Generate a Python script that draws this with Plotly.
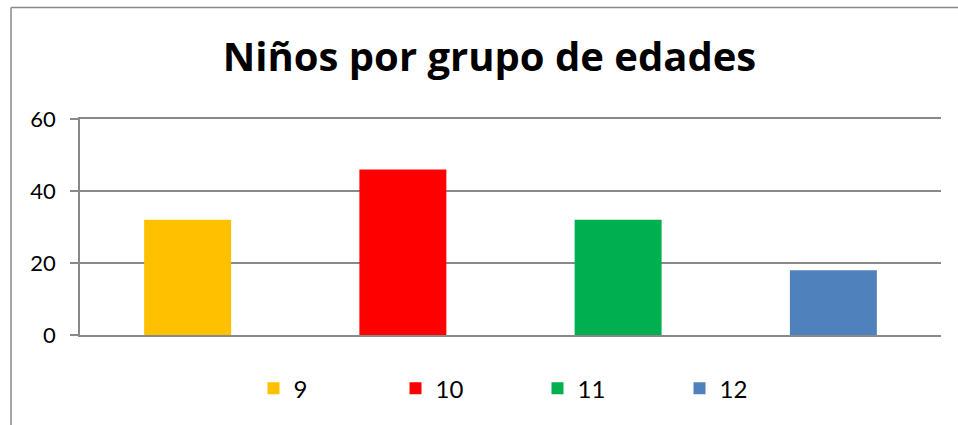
import plotly.graph_objects as go

categories = ["9", "10", "11", "12"]
values = [32, 46, 32, 18]
colors = ["#FFC000", "#FF0000", "#00B050", "#4F81BD"]
title_text = "Niños por grupo de edades"
y_ticks = [0, 20, 40, 60]

W, H = 958, 425
L, R, T, B = 80, 17, 118.5, 89.5
pw, ph = W - L - R, H - T - B

fig = go.Figure()
for cat, val, col in zip(categories, values, colors):
    fig.add_trace(go.Bar(x=[cat], y=[val], name=cat, marker=dict(color=col, line=dict(width=0))))

def px_x(x):
    return (x - L) / pw

def px_y(y):
    return (H - B - y) / ph

grid = "#898989"
fig.update_layout(
    width=W, height=H,
    margin=dict(l=L, r=R, t=T, b=B, pad=0),
    paper_bgcolor="white", plot_bgcolor="white",
    barmode="overlay", bargap=0.596,
    font=dict(family="Open Sans", color="black"),
    title=dict(text="<b>" + title_text + "</b>", x=489.5 / W, xanchor="center",
               y=1 - 57 / H, yanchor="middle", font=dict(size=40, family="Open Sans", color="black")),
    xaxis=dict(categoryorder="array", categoryarray=categories, showticklabels=False,
               showgrid=False, showline=True, mirror=True, linecolor=grid, linewidth=1.5, ticks="",
               zeroline=False),
    yaxis=dict(range=[0, 60], tickvals=y_ticks, showgrid=True, gridcolor=grid, gridwidth=1.5,
               showline=True, linecolor=grid, linewidth=1.5, ticks="outside", ticklen=8,
               tickcolor=grid, tickwidth=1.5, zeroline=False, ticklabelstandoff=10,
               tickfont=dict(size=22, family="Lato", color="black")),
    legend=dict(orientation="h", x=px_x(253.5), xanchor="left", y=px_y(389.5), yanchor="middle",
                entrywidth=97, entrywidthmode="pixels", font=dict(size=24, family="Lato", color="black"),
                traceorder="normal", bgcolor="rgba(0,0,0,0)"),
    showlegend=True,
    shapes=[
        dict(type="line", xref="paper", yref="paper", x0=px_x(11), x1=px_x(970), y0=px_y(6.5), y1=px_y(6.5),
             line=dict(color=grid, width=1.5)),
        dict(type="line", xref="paper", yref="paper", x0=px_x(11), x1=px_x(11), y0=px_y(6.5), y1=px_y(440),
             line=dict(color=grid, width=1.5)),
    ],
)

fig.write_html("out.html", config={"displayModeBar": False},
               post_script="document.body.style.margin='0';document.documentElement.style.overflow='hidden';")
